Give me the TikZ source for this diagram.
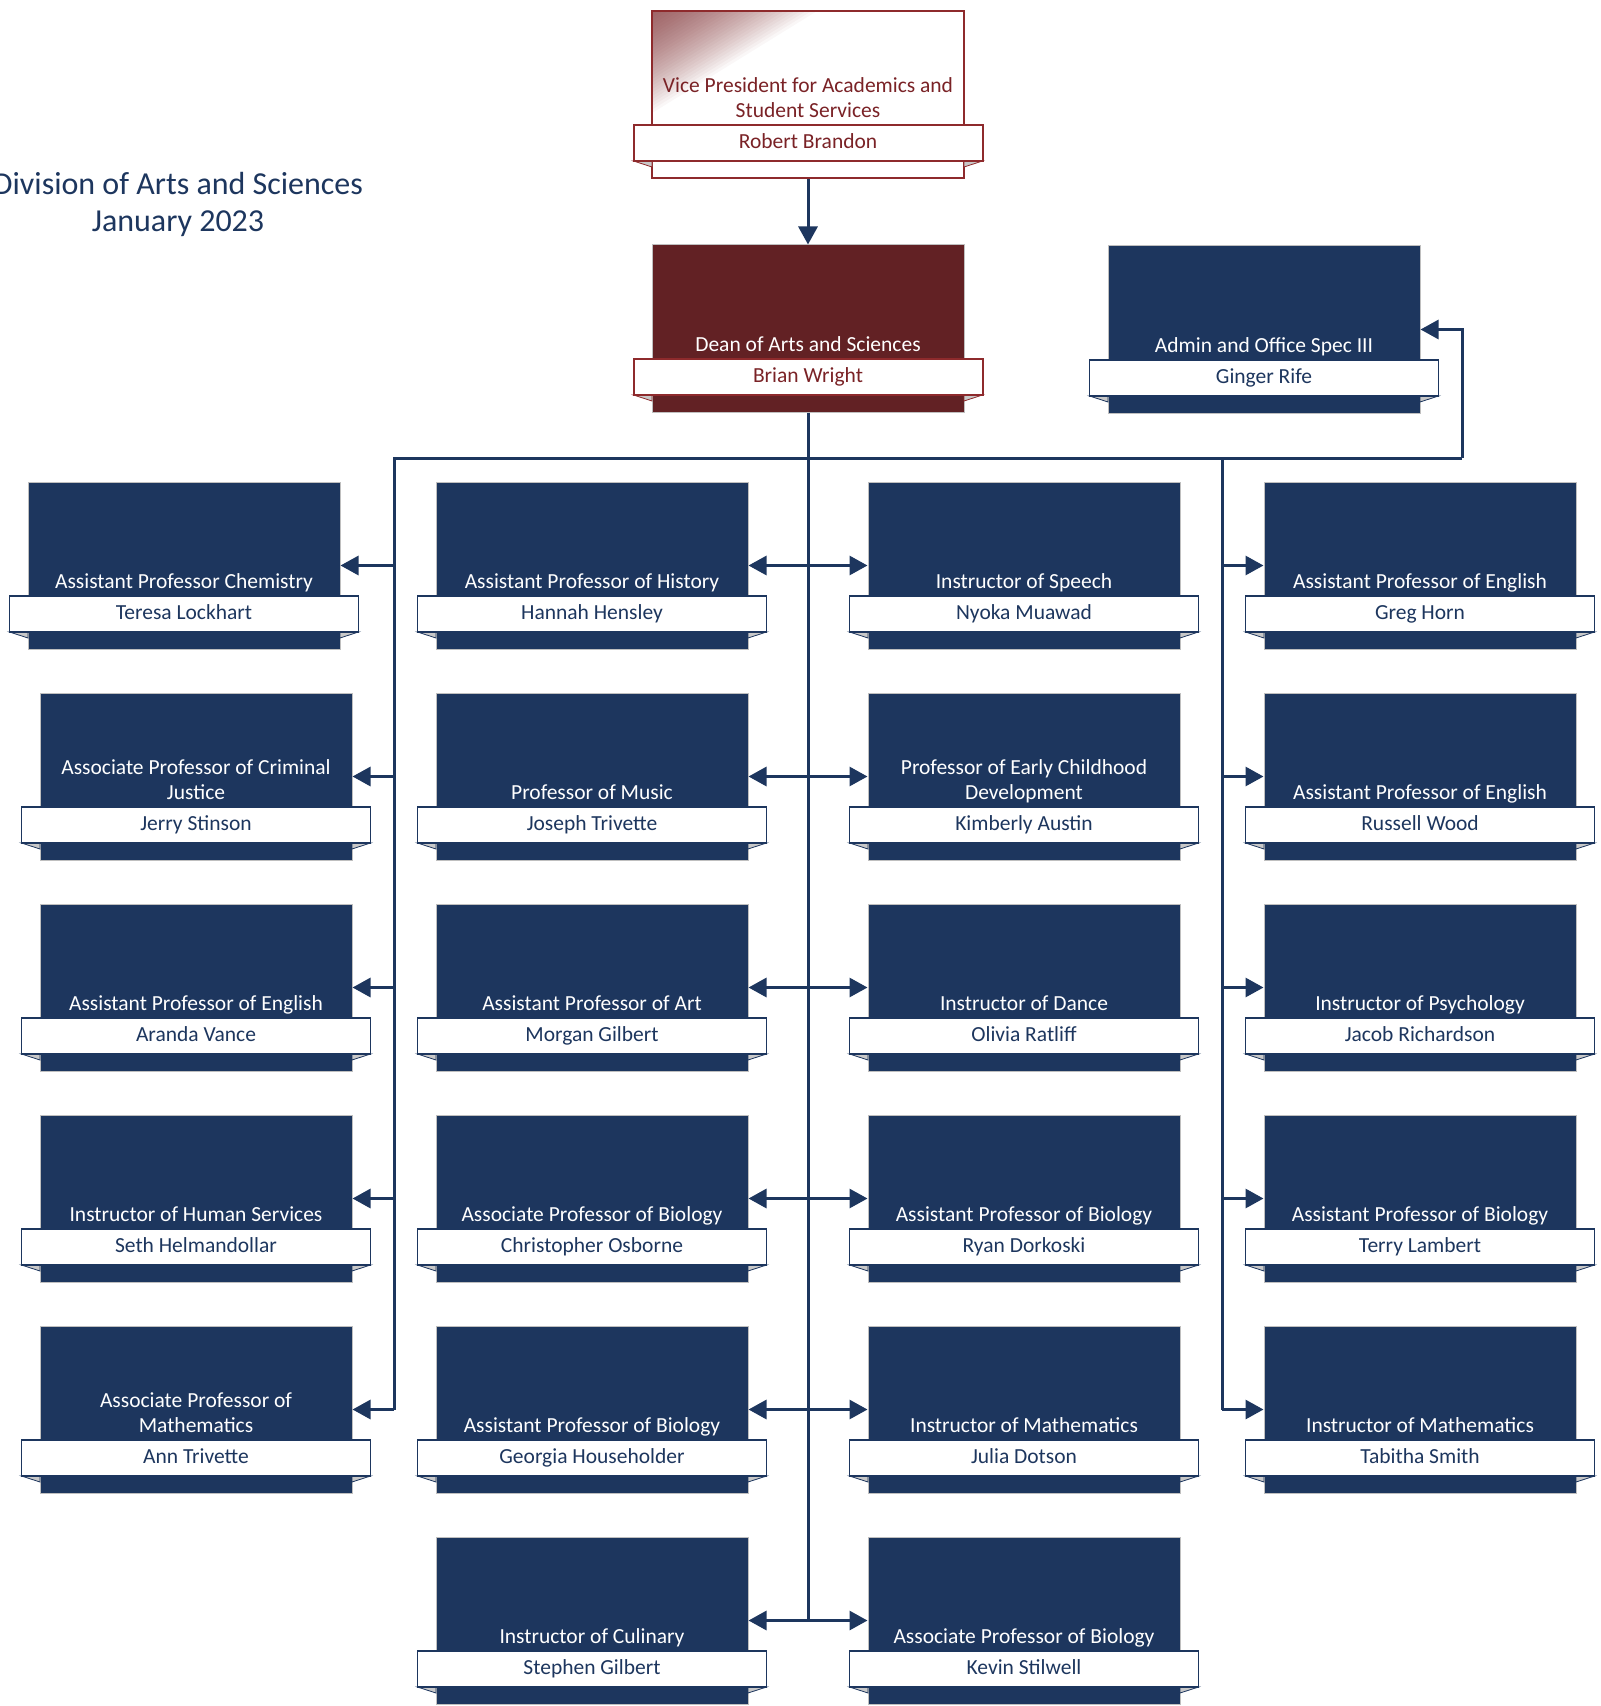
\documentclass[tikz,border=0pt]{standalone}
\usepackage{fontspec}
\setmainfont{Carlito}
\usetikzlibrary{arrows.meta}
\definecolor{navy}{HTML}{1D365E}
\definecolor{deanred}{HTML}{622124}
\definecolor{vpred}{HTML}{7A2226}
\definecolor{vpborder}{HTML}{8E2A2C}
\definecolor{foldgray}{HTML}{C8C8C8}
\definecolor{edgegray}{HTML}{BFBFBF}
\newcommand\orgbox[6]{%
  \node[#1box] (#2) at (#3,{#4+83.5}) {};
  \filldraw[#1fold] ({#3-174.5},{#4+150}) -- ({#3-156},{#4+150}) -- ({#3-156},{#4+156}) -- cycle;
  \filldraw[#1fold] ({#3+174.5},{#4+150}) -- ({#3+156},{#4+150}) -- ({#3+156},{#4+156}) -- cycle;
  \node[#1ban] (#2n) at (#3,{#4+132}) {#6};
  \node[#1ttl] (#2t) at (#3,{#4+114.5}) {#5\strut};
}
\tikzset{
  x=0.5pt, y=-0.5pt,
  basefont/.style={font=\fontsize{10.75}{12.5}\selectfont},
  navybox/.style={rectangle, inner sep=0, minimum width=156pt, minimum height=83.5pt, fill=navy, draw=edgegray, line width=0.5pt},
  navyban/.style={rectangle, inner sep=0, minimum width=174.5pt, minimum height=18pt, fill=white, draw=navy, line width=0.7pt, text=navy, basefont, text height=7.5pt, text depth=2pt},
  navyttl/.style={inner sep=0, anchor=south, align=center, text=white, basefont},
  navyfold/.style={fill=foldgray, draw=navy, line width=0.4pt},
  deanbox/.style={navybox, fill=deanred},
  deanban/.style={navyban, draw=vpborder, line width=1pt, text=vpred},
  deanttl/.style={navyttl},
  deanfold/.style={navyfold, draw=vpborder},
  vpbox/.style={navybox, fill=white, draw=vpborder, line width=1pt,
    path picture={
      \foreach \t in {1,...,30}{
        \fill[vpred, opacity=0.035] (path picture bounding box.north west) -- ++({5.5*\t},0) -- ++({-5.5*\t},{3.4*\t}) -- cycle;
      }
    }},
  vpban/.style={deanban},
  vpttl/.style={navyttl, text=vpred},
  vpfold/.style={deanfold},
  conn/.style={draw=navy, line width=1.5pt},
  arr/.style={conn, -{Triangle[length=9pt,width=9.5pt]}},
  darr/.style={conn, {Triangle[length=9pt,width=9.5pt]}-{Triangle[length=9pt,width=9.5pt]}},
  heading/.style={inner sep=0, anchor=base, text=navy, font=\fontsize{16}{18.5}\selectfont},
}
\begin{document}
\begin{tikzpicture}
\useasboundingbox (0,0) rectangle (1600,1706);

% heading
\node[heading] (head1) at (178,195) {Division of Arts and Sciences};
\node[heading] (head2) at (178,232) {January 2023};

% top
\orgbox{vp}{vp}{808}{11}{Vice President for Academics and\\Student Services}{Robert Brandon}
\orgbox{dean}{dean}{808}{245}{Dean of Arts and Sciences}{Brian Wright}
\orgbox{navy}{admin}{1264}{246}{Admin and Office Spec III}{Ginger Rife}

% column 1
\orgbox{navy}{a1}{184}{482}{Assistant Professor Chemistry}{Teresa Lockhart}
\orgbox{navy}{a2}{196}{693}{Associate Professor of Criminal\\Justice}{Jerry Stinson}
\orgbox{navy}{a3}{196}{904}{Assistant Professor of English}{Aranda Vance}
\orgbox{navy}{a4}{196}{1115}{Instructor of Human Services}{Seth Helmandollar}
\orgbox{navy}{a5}{196}{1326}{Associate Professor of\\Mathematics}{Ann Trivette}

% column 2
\orgbox{navy}{b1}{592}{482}{Assistant Professor of History}{Hannah Hensley}
\orgbox{navy}{b2}{592}{693}{Professor of Music}{Joseph Trivette}
\orgbox{navy}{b3}{592}{904}{Assistant Professor of Art}{Morgan Gilbert}
\orgbox{navy}{b4}{592}{1115}{Associate Professor of Biology}{Christopher Osborne}
\orgbox{navy}{b5}{592}{1326}{Assistant Professor of Biology}{Georgia Householder}
\orgbox{navy}{b6}{592}{1537}{Instructor of Culinary}{Stephen Gilbert}

% column 3
\orgbox{navy}{c1}{1024}{482}{Instructor of Speech}{Nyoka Muawad}
\orgbox{navy}{c2}{1024}{693}{Professor of Early Childhood\\Development}{Kimberly Austin}
\orgbox{navy}{c3}{1024}{904}{Instructor of Dance}{Olivia Ratliff}
\orgbox{navy}{c4}{1024}{1115}{Assistant Professor of Biology}{Ryan Dorkoski}
\orgbox{navy}{c5}{1024}{1326}{Instructor of Mathematics}{Julia Dotson}
\orgbox{navy}{c6}{1024}{1537}{Associate Professor of Biology}{Kevin Stilwell}

% column 4
\orgbox{navy}{d1}{1420}{482}{Assistant Professor of English}{Greg Horn}
\orgbox{navy}{d2}{1420}{693}{Assistant Professor of English}{Russell Wood}
\orgbox{navy}{d3}{1420}{904}{Instructor of Psychology}{Jacob Richardson}
\orgbox{navy}{d4}{1420}{1115}{Assistant Professor of Biology}{Terry Lambert}
\orgbox{navy}{d5}{1420}{1326}{Instructor of Mathematics}{Tabitha Smith}

% connectors
\coordinate (busL) at (394,458);
\coordinate (busR) at (1462,458);
\coordinate (rTop) at (1222,458);

\draw[arr] (vp) -- (dean);
\draw[conn] (dean.south) -- (dean.south |- b6);
\draw[conn] (a5.east -| busL) -- (busL) -- (busR);
\draw[conn] (rTop) -- (d5.west -| rTop);
\draw[arr] (busR) |- (admin.east);

\foreach \i in {1,...,5}{
  \draw[arr] (a\i.east -| busL) -- (a\i.east);
  \draw[arr] (d\i.west -| rTop) -- (d\i.west);
}
\foreach \i in {1,...,6}{
  \draw[darr] (b\i.east) -- (c\i.west);
}
\end{tikzpicture}
\end{document}
